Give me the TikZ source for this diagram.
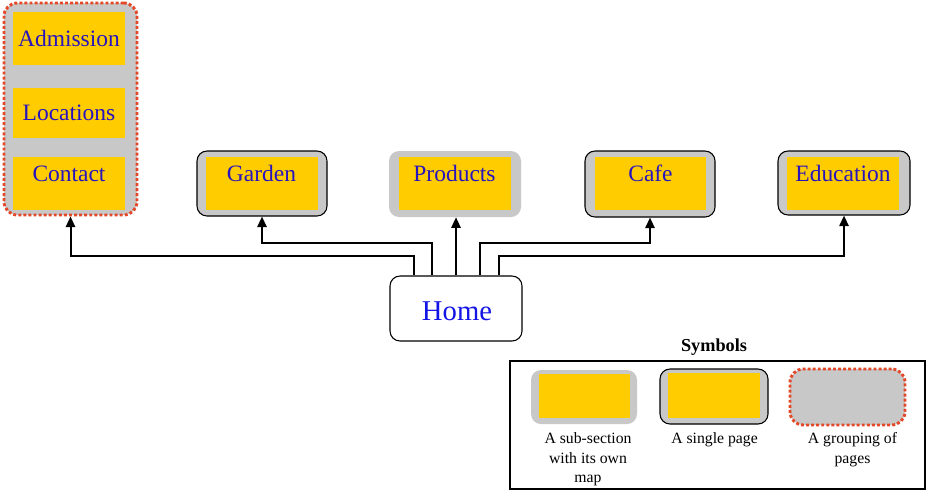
\documentclass[tikz,border=0pt]{standalone}
\usepackage{fontspec}
\setmainfont{Liberation Serif}
\usetikzlibrary{calc,arrows.meta}
\definecolor{pageyellow}{RGB}{255,204,0}
\definecolor{boxgray}{RGB}{200,200,200}
\definecolor{grpred}{RGB}{228,72,40}
\definecolor{lblblue}{RGB}{40,20,190}
\definecolor{homeblue}{RGB}{20,20,230}
\begin{document}
\begin{tikzpicture}[x=0.75pt,y=-0.75pt,
  pagebox/.style={rectangle, fill=pageyellow, inner sep=0pt},
  subsec/.style={rectangle, rounded corners=7.5pt, fill=boxgray, inner sep=0pt},
  single/.style={subsec, draw=black, line width=0.8pt},
  grouping/.style={rectangle, rounded corners=10pt, fill=boxgray, draw=grpred, line width=2.2pt, dash pattern=on 2.2pt off 1.6pt, inner sep=0pt},
  lbl/.style={anchor=base, text=lblblue, font=\fontsize{17.6}{20}\selectfont, inner sep=0pt},
  homelbl/.style={anchor=base, text=homeblue, font=\fontsize{21.5}{25}\selectfont, inner sep=0pt},
  homebox/.style={rectangle, rounded corners=7.5pt, draw=black, fill=white, line width=0.8pt, inner sep=0pt},
  conn/.style={draw=black, line width=1.5pt, -{Triangle[length=8pt,width=7pt]}},
  legendtxt/.style={anchor=north, align=center, font=\fontsize{11.8}{14.6}\selectfont, inner sep=0pt},
  legendframe/.style={rectangle, draw=black, line width=0.8pt, inner sep=0pt}
]
\useasboundingbox (0,0) rectangle (927,490);

% grouping of pages
\node[grouping, minimum width=99.75pt, minimum height=159pt] (grp) at (70.5,109) {};
\node[pagebox, minimum width=84pt, minimum height=39.75pt] (adm) at (69,38.5) {};
\node[pagebox, minimum width=84pt, minimum height=37.5pt] (loc) at (69,113) {};
\node[pagebox, minimum width=84pt, minimum height=39.75pt] (con) at (69,183.5) {};
\node[lbl] (admT) at (69,46.7) {Admission};
\node[lbl] (locT) at (69,120.7) {Locations};
\node[lbl] (conT) at (69,181.7) {Contact};

% single pages / sub-sections
\node[single, minimum width=97.5pt, minimum height=48.75pt] (garden) at (262,183.5) {};
\node[pagebox, minimum width=84pt, minimum height=39.75pt] (gardenY) at (261.5,183.5) {};
\node[lbl] (gardenT) at (261.5,181.7) {Garden};

\node[subsec, minimum width=99pt, minimum height=49.5pt] (products) at (455,184) {};
\node[pagebox, minimum width=84pt, minimum height=39.75pt] (productsY) at (454.5,183.5) {};
\node[lbl] (productsT) at (454.5,181.7) {Products};

\node[single, minimum width=97.5pt, minimum height=49.5pt] (cafe) at (650,184) {};
\node[pagebox, minimum width=83.25pt, minimum height=39.75pt] (cafeY) at (650.5,183.5) {};
\node[lbl] (cafeT) at (650.5,181.7) {Cafe};

\node[single, minimum width=99pt, minimum height=48pt] (edu) at (844,183) {};
\node[pagebox, minimum width=84pt, minimum height=39.75pt] (eduY) at (843,183.5) {};
\node[lbl] (eduT) at (843,181.7) {Education};

% home
\node[homebox, minimum width=99pt, minimum height=48.75pt] (home) at (456,308.5) {};
\node[homelbl] (homeT) at (457,320) {Home};

% connectors
\draw[conn] ($(home.north)+(-42,0)$) -- ++(0,-19) -| (grp.south);
\draw[conn] ($(home.north)+(-24,0)$) -- ++(0,-32) -| (garden.south);
\draw[conn] (home.north) -- (home.north |- products.south);
\draw[conn] ($(home.north)+(24,0)$) -- ++(0,-32) -| (cafe.south);
\draw[conn] ($(home.north)+(43,0)$) -- ++(0,-19) -| (edu.south);

% legend
\node[anchor=base, font=\bfseries\fontsize{13.7}{16}\selectfont, inner sep=0pt] (symT) at (714,351) {Symbols};
\node[legendframe, minimum width=311.25pt, minimum height=96pt] (legend) at (717.5,425) {};

\node[subsec, minimum width=79.5pt, minimum height=40.5pt] (lsub) at (584,397) {};
\node[pagebox, minimum width=68.25pt, minimum height=33pt] (lsubY) at (584.5,396) {};
\node[legendtxt] (lsubT) at (588,432.6) {A sub-section\\with its own\\map};

\node[single, minimum width=81pt, minimum height=41.25pt] (lsingle) at (714,396.5) {};
\node[pagebox, minimum width=69pt, minimum height=33.75pt] (lsingleY) at (714,395.5) {};
\node[legendtxt] (lsingleT) at (714.5,432) {A single page};

\node[grouping, minimum width=86.25pt, minimum height=42pt] (lgrp) at (847.5,397) {};
\node[legendtxt] (lgrpT) at (852.5,432.6) {A grouping of\\pages};
\end{tikzpicture}
\end{document}
